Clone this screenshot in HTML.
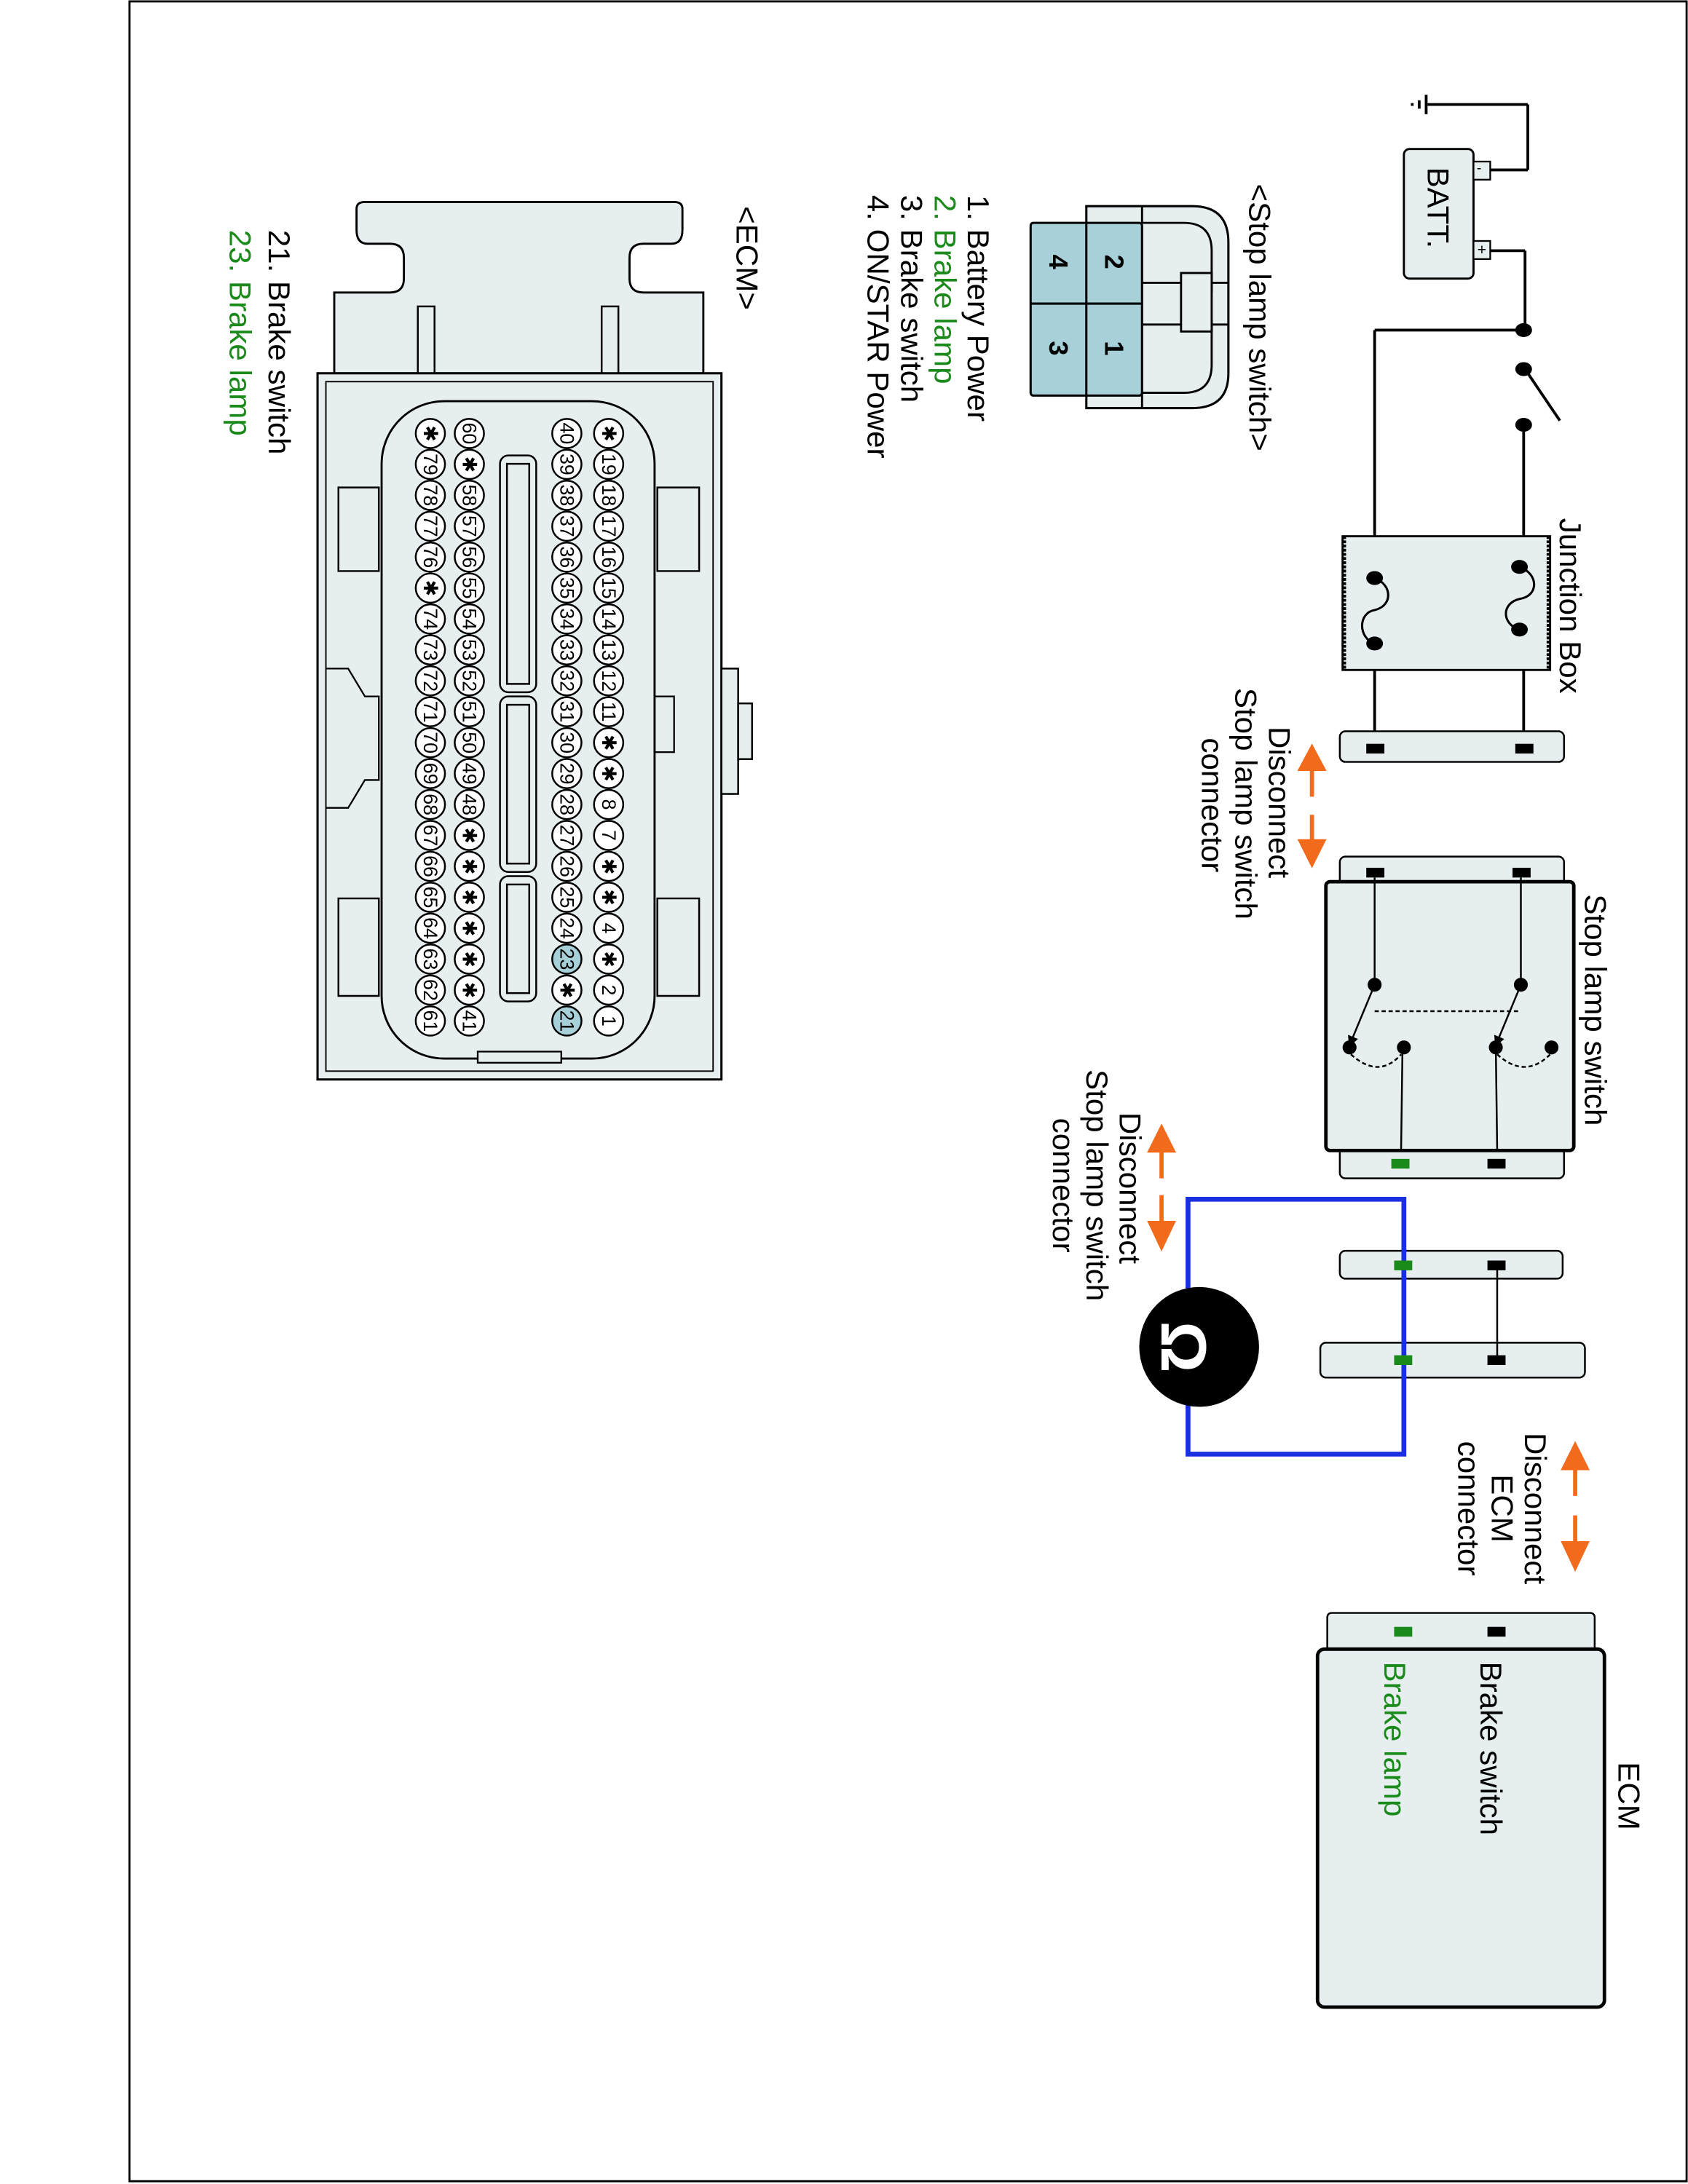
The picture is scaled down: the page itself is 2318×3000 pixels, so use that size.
<!DOCTYPE html>
<html><head><meta charset="utf-8"><style>
html,body{margin:0;padding:0;background:#fff;}
svg{display:block;}
text{font-family:"Liberation Sans",sans-serif;}
.pin circle{fill:#fff;stroke:#000;stroke-width:1.3;}
.pin text{font-size:14px;text-anchor:middle;dominant-baseline:central;}
.hl circle{fill:#a8d0d8;}
.lbl{font-size:22px;}
.mid{text-anchor:middle;}
</style></head><body>
<svg width="2318" height="3000" viewBox="0 0 1212 1568" preserveAspectRatio="none" xmlns="http://www.w3.org/2000/svg">
<defs>
<marker id="ah" markerWidth="6" markerHeight="6" refX="3" refY="3" orient="auto"><path d="M0,0 L6,3 L0,6 z" fill="#000"/></marker>
</defs>
<rect x="93" y="1" width="1118" height="1565" fill="none" stroke="#000" stroke-width="1.5"/>

<!-- Battery / ground -->
<g stroke="#000" stroke-width="2" fill="none">
<line x1="1024" y1="68" x2="1024" y2="82"/><line x1="1019" y1="72" x2="1019" y2="78"/><line x1="1014" y1="74" x2="1014" y2="76"/>
<line x1="1025" y1="75" x2="1097" y2="75"/><line x1="1097" y1="75" x2="1097" y2="122"/><line x1="1097" y1="122" x2="1070" y2="122"/>
<line x1="1070" y1="180" x2="1095" y2="180"/><line x1="1095" y1="180" x2="1095" y2="237"/>
<line x1="1095" y1="237" x2="987" y2="237"/><line x1="987" y1="237" x2="987" y2="530"/>
<line x1="1095" y1="265" x2="1120" y2="302"/>
<line x1="1094" y1="305" x2="1094" y2="530"/>
</g>
<rect x="1008" y="107" width="50" height="93" rx="4" fill="#e6eef0" stroke="#000" stroke-width="1.5"/>
<rect x="1058" y="116" width="12" height="13" fill="#e6eef0" stroke="#000" stroke-width="1.2"/>
<rect x="1058" y="173" width="12" height="13" fill="#e6eef0" stroke="#000" stroke-width="1.2"/>
<text x="1062" y="124" font-size="10" text-anchor="middle">-</text>
<text x="1064" y="183" font-size="11" text-anchor="middle">+</text>
<text transform="translate(1025,120) rotate(90)" font-size="22">BATT.</text>
<ellipse cx="1094" cy="237" rx="6" ry="5"/><ellipse cx="1094" cy="265" rx="6" ry="5"/><ellipse cx="1094" cy="305" rx="6" ry="5"/>

<!-- Junction box -->
<rect x="964" y="385" width="149" height="96" fill="#e6eef0" stroke="#000" stroke-width="1.5"/>
<line x1="965" y1="385" x2="965" y2="481" stroke="#000" stroke-width="3" stroke-dasharray="2,1"/>
<line x1="1112" y1="385" x2="1112" y2="481" stroke="#000" stroke-width="3" stroke-dasharray="2,1"/>
<g stroke="#000" stroke-width="1.6" fill="none">
<path d="M987,415 C1000,420 1000,435 987,438 C975,440 975,458 987,462"/>
<path d="M1091,407 C1105,412 1105,428 1091,430 C1078,433 1078,448 1091,452"/>
</g>
<ellipse cx="987" cy="415" rx="6" ry="5"/><ellipse cx="987" cy="462" rx="6" ry="5"/>
<ellipse cx="1091" cy="407" rx="6" ry="5"/><ellipse cx="1091" cy="452" rx="6" ry="5"/>
<text class="lbl" transform="translate(1120,372) rotate(90)">Junction Box</text>

<!-- connector 1 -->
<rect x="962" y="525" width="161" height="22" rx="4" fill="#e6eef0" stroke="#000" stroke-width="1.3"/>
<rect x="981" y="534" width="13" height="7"/><rect x="1088" y="534" width="13" height="7"/>
<text class="lbl mid" transform="translate(911,576) rotate(90)">Disconnect</text>
<text class="lbl mid" transform="translate(887,577) rotate(90)">Stop lamp switch</text>
<text class="lbl mid" transform="translate(863,578) rotate(90)">connector</text>
<g fill="#f26b1d" stroke="#f26b1d" stroke-width="3">
<line x1="942" y1="548" x2="942" y2="572"/><path d="M934,552 L942,537 L950,552 z"/>
<line x1="942" y1="585" x2="942" y2="608"/><path d="M934,604 L942,620 L950,604 z"/>
</g>

<!-- Stop lamp switch -->
<rect x="962" y="615" width="161" height="22" rx="4" fill="#e6eef0" stroke="#000" stroke-width="1.3"/>
<rect x="962" y="824" width="161" height="22" rx="4" fill="#e6eef0" stroke="#000" stroke-width="1.3"/>
<rect x="952" y="633" width="178" height="193" rx="3" fill="#e6eef0" stroke="#000" stroke-width="2.5"/>
<rect x="981" y="623" width="13" height="7"/><rect x="1086" y="623" width="13" height="7"/>
<rect x="1068" y="832" width="13" height="7"/><rect x="999" y="832" width="13" height="7" fill="#1a8a1a"/>
<g stroke="#000" stroke-width="1.3" fill="none">
<line x1="987" y1="630" x2="987" y2="707"/><line x1="1092" y1="630" x2="1092" y2="707"/>
<line x1="987" y1="726" x2="1092" y2="726" stroke-dasharray="3,2"/>
<line x1="987" y1="707" x2="970" y2="748" marker-end="url(#ah)"/>
<line x1="1092" y1="707" x2="1075" y2="748" marker-end="url(#ah)"/>
<path d="M970,757 Q990,775 1006,757" stroke-dasharray="3,2"/>
<path d="M1075,757 Q1095,775 1113,757" stroke-dasharray="3,2"/>
<line x1="1007" y1="752" x2="1006" y2="826"/><line x1="1074" y1="752" x2="1075" y2="826"/>
</g>
<circle cx="987" cy="707" r="5"/><circle cx="1092" cy="707" r="5"/>
<circle cx="969" cy="752" r="5"/><circle cx="1008" cy="752" r="5"/><circle cx="1074" cy="752" r="5"/><circle cx="1114" cy="752" r="5"/>
<text class="lbl" transform="translate(1138,642) rotate(90)">Stop lamp switch</text>

<!-- second disconnect pair -->
<rect x="962" y="898" width="160" height="20" rx="4" fill="#e6eef0" stroke="#000" stroke-width="1.3"/>
<rect x="948" y="964" width="190" height="25" rx="4" fill="#e6eef0" stroke="#000" stroke-width="1.3"/>
<line x1="1075" y1="908" x2="1075" y2="976" stroke="#000" stroke-width="1.3"/>
<g stroke="#1a2fe0" stroke-width="3.5" fill="none">
<path d="M853,861 L1008,861 L1008,1044 L853,1044 Z"/>
</g>
<rect x="1068" y="905" width="13" height="7"/><rect x="1001" y="905" width="13" height="7" fill="#1a8a1a"/>
<rect x="1068" y="973" width="13" height="7"/><rect x="1001" y="973" width="13" height="7" fill="#1a8a1a"/>
<circle cx="861" cy="967" r="43" fill="#000"/>
<text transform="translate(850,967) rotate(90)" font-size="46" font-weight="bold" fill="#fff" text-anchor="middle" dominant-baseline="central">Ω</text>
<text class="lbl mid" transform="translate(804,853) rotate(90)">Disconnect</text>
<text class="lbl mid" transform="translate(780,851) rotate(90)">Stop lamp switch</text>
<text class="lbl mid" transform="translate(756,851) rotate(90)">connector</text>
<g fill="#f26b1d" stroke="#f26b1d" stroke-width="3">
<line x1="834" y1="822" x2="834" y2="846"/><path d="M826,826 L834,810 L842,826 z"/>
<line x1="834" y1="858" x2="834" y2="882"/><path d="M826,878 L834,895 L842,878 z"/>
</g>

<!-- ECM disconnect -->
<text class="lbl mid" transform="translate(1095,1083) rotate(90)">Disconnect</text>
<text class="lbl mid" transform="translate(1071,1083) rotate(90)">ECM</text>
<text class="lbl mid" transform="translate(1047,1083) rotate(90)">connector</text>
<g fill="#f26b1d" stroke="#f26b1d" stroke-width="3">
<line x1="1131" y1="1050" x2="1131" y2="1074"/><path d="M1123,1054 L1131,1038 L1139,1054 z"/>
<line x1="1131" y1="1088" x2="1131" y2="1112"/><path d="M1123,1108 L1131,1125 L1139,1108 z"/>
</g>

<!-- ECM box -->
<rect x="953" y="1158" width="192" height="28" rx="3" fill="#e6eef0" stroke="#000" stroke-width="1.3"/>
<rect x="946" y="1184" width="206" height="257" rx="5" fill="#e6eef0" stroke="#000" stroke-width="2.5"/>
<rect x="1068" y="1168" width="13" height="7"/><rect x="1001" y="1168" width="13" height="7" fill="#1a8a1a"/>
<text class="lbl" transform="translate(1162,1265) rotate(90)">ECM</text>
<text class="lbl" transform="translate(1063,1193) rotate(90)">Brake switch</text>
<text class="lbl" transform="translate(994,1193) rotate(90)" fill="#1a8a1a">Brake lamp</text>

<!-- Stop lamp switch connector view -->
<text class="lbl" transform="translate(897,132) rotate(90)">&lt;Stop lamp switch&gt;</text>
<path d="M780,148 L856,148 Q882,148 882,174 L882,268 Q882,293 856,293 L780,293 Z" fill="#e6eef0" stroke="#000" stroke-width="1.6"/>
<path d="M820,160 L820,148 M820,293 L820,282" stroke="#000" stroke-width="1.5"/>
<path d="M820,160 L850,160 Q870,160 870,180 L870,210 M870,230 L870,262 Q870,282 850,282 L820,282" fill="none" stroke="#000" stroke-width="1.5"/>
<path d="M820,203 L882,203 M820,233 L882,233" stroke="#000" stroke-width="1.5"/>
<rect x="848" y="196" width="22" height="42" fill="#e6eef0" stroke="#000" stroke-width="1.5"/>
<rect x="740" y="160" width="80" height="124" rx="2" fill="#a8d0d8" stroke="#000" stroke-width="1.6"/>
<line x1="780" y1="160" x2="780" y2="284" stroke="#000" stroke-width="1.6"/>
<line x1="740" y1="218" x2="820" y2="218" stroke="#000" stroke-width="1.6"/>
<g font-size="19" text-anchor="middle" dominant-baseline="central" font-weight="bold">
<text transform="translate(800,188) rotate(90)">2</text><text transform="translate(800,250) rotate(90)">1</text>
<text transform="translate(760,188) rotate(90)">4</text><text transform="translate(760,250) rotate(90)">3</text>
</g>
<text class="lbl" transform="translate(695,140) rotate(90)">1. Battery Power</text>
<text class="lbl" transform="translate(671,140) rotate(90)" fill="#1a8a1a">2. Brake lamp</text>
<text class="lbl" transform="translate(647,140) rotate(90)">3. Brake switch</text>
<text class="lbl" transform="translate(623,140) rotate(90)">4. ON/STAR Power</text>

<!-- ECM connector view -->
<text class="lbl" transform="translate(529,148) rotate(90)">&lt;ECM&gt;</text>
<text class="lbl" transform="translate(193,165) rotate(90)">21. Brake switch</text>
<text class="lbl" transform="translate(165,165) rotate(90)" fill="#1a8a1a">23. Brake lamp</text>
<path d="M240,268 L240,210 L280,210 Q290,210 290,200 L290,185 Q290,175 280,175 L264,175 Q256,175 256,165 L256,150 Q256,145 262,145 L484,145 Q490,145 490,150 L490,165 Q490,175 482,175 L462,175 Q452,175 452,185 L452,200 Q452,210 462,210 L505,210 L505,268 Z" fill="#e6eef0" stroke="#000" stroke-width="1.5"/>
<rect x="300" y="220" width="12" height="48" fill="#e6eef0" stroke="#000" stroke-width="1.3"/>
<rect x="432" y="220" width="12" height="48" fill="#e6eef0" stroke="#000" stroke-width="1.3"/>
<rect x="228" y="268" width="290" height="507" fill="#e6eef0" stroke="#000" stroke-width="1.6"/>
<rect x="234" y="274" width="278" height="495" fill="none" stroke="#000" stroke-width="1"/>
<rect x="518" y="480" width="12" height="90" fill="#e6eef0" stroke="#000" stroke-width="1.3"/>
<rect x="530" y="505" width="10" height="40" fill="#e6eef0" stroke="#000" stroke-width="1.3"/>
<path d="M243,350 L272,350 L272,410 L243,410 Z M243,645 L272,645 L272,715 L243,715 Z" fill="#e6eef0" stroke="#000" stroke-width="1.3"/>
<path d="M472,350 L502,350 L502,410 L472,410 Z M472,645 L502,645 L502,715 L472,715 Z" fill="#e6eef0" stroke="#000" stroke-width="1.3"/>
<path d="M234,480 L250,480 L262,500 L272,500 L272,560 L262,560 L250,580 L234,580" fill="none" stroke="#000" stroke-width="1.2"/>
<rect x="468" y="500" width="16" height="40" fill="none" stroke="#000" stroke-width="1.2"/>
<rect x="274" y="288" width="196" height="472" rx="45" fill="#e6eef0" stroke="#000" stroke-width="1.5"/>
<rect x="343" y="755" width="60" height="8" fill="#e6eef0" stroke="#000" stroke-width="1.2"/>
<g fill="#e6eef0" stroke="#000" stroke-width="1.3">
<rect x="359" y="327" width="26" height="170" rx="6"/>
<rect x="359" y="500" width="26" height="126" rx="6"/>
<rect x="359" y="629" width="26" height="90" rx="6"/>
<rect x="364" y="333" width="16" height="158"/>
<rect x="364" y="506" width="16" height="114"/>
<rect x="364" y="635" width="16" height="78"/>
</g>

<!-- pins row 1 x=437 -->
<g class="pin"><g transform="translate(437,733) rotate(90)"><circle r="10.5"/><text>1</text></g>
<g transform="translate(437,710.8) rotate(90)"><circle r="10.5"/><text>2</text></g>
<g transform="translate(437,688.6) rotate(90)"><circle r="10.5"/><text>✱</text></g>
<g transform="translate(437,666.4) rotate(90)"><circle r="10.5"/><text>4</text></g>
<g transform="translate(437,644.2) rotate(90)"><circle r="10.5"/><text>✱</text></g>
<g transform="translate(437,622) rotate(90)"><circle r="10.5"/><text>✱</text></g>
<g transform="translate(437,599.8) rotate(90)"><circle r="10.5"/><text>7</text></g>
<g transform="translate(437,577.6) rotate(90)"><circle r="10.5"/><text>8</text></g>
<g transform="translate(437,555.4) rotate(90)"><circle r="10.5"/><text>✱</text></g>
<g transform="translate(437,533.2) rotate(90)"><circle r="10.5"/><text>✱</text></g>
<g transform="translate(437,511) rotate(90)"><circle r="10.5"/><text>11</text></g>
<g transform="translate(437,488.8) rotate(90)"><circle r="10.5"/><text>12</text></g>
<g transform="translate(437,466.6) rotate(90)"><circle r="10.5"/><text>13</text></g>
<g transform="translate(437,444.4) rotate(90)"><circle r="10.5"/><text>14</text></g>
<g transform="translate(437,422.2) rotate(90)"><circle r="10.5"/><text>15</text></g>
<g transform="translate(437,400) rotate(90)"><circle r="10.5"/><text>16</text></g>
<g transform="translate(437,377.8) rotate(90)"><circle r="10.5"/><text>17</text></g>
<g transform="translate(437,355.6) rotate(90)"><circle r="10.5"/><text>18</text></g>
<g transform="translate(437,333.4) rotate(90)"><circle r="10.5"/><text>19</text></g>
<g transform="translate(437,311.2) rotate(90)"><circle r="10.5"/><text>✱</text></g>
</g>
<!-- row 2 x=407 -->
<g class="pin"><g class="hl" transform="translate(407,733) rotate(90)"><circle r="10.5"/><text>21</text></g>
<g transform="translate(407,710.8) rotate(90)"><circle r="10.5"/><text>✱</text></g>
<g class="hl" transform="translate(407,688.6) rotate(90)"><circle r="10.5"/><text>23</text></g>
<g transform="translate(407,666.4) rotate(90)"><circle r="10.5"/><text>24</text></g>
<g transform="translate(407,644.2) rotate(90)"><circle r="10.5"/><text>25</text></g>
<g transform="translate(407,622) rotate(90)"><circle r="10.5"/><text>26</text></g>
<g transform="translate(407,599.8) rotate(90)"><circle r="10.5"/><text>27</text></g>
<g transform="translate(407,577.6) rotate(90)"><circle r="10.5"/><text>28</text></g>
<g transform="translate(407,555.4) rotate(90)"><circle r="10.5"/><text>29</text></g>
<g transform="translate(407,533.2) rotate(90)"><circle r="10.5"/><text>30</text></g>
<g transform="translate(407,511) rotate(90)"><circle r="10.5"/><text>31</text></g>
<g transform="translate(407,488.8) rotate(90)"><circle r="10.5"/><text>32</text></g>
<g transform="translate(407,466.6) rotate(90)"><circle r="10.5"/><text>33</text></g>
<g transform="translate(407,444.4) rotate(90)"><circle r="10.5"/><text>34</text></g>
<g transform="translate(407,422.2) rotate(90)"><circle r="10.5"/><text>35</text></g>
<g transform="translate(407,400) rotate(90)"><circle r="10.5"/><text>36</text></g>
<g transform="translate(407,377.8) rotate(90)"><circle r="10.5"/><text>37</text></g>
<g transform="translate(407,355.6) rotate(90)"><circle r="10.5"/><text>38</text></g>
<g transform="translate(407,333.4) rotate(90)"><circle r="10.5"/><text>39</text></g>
<g transform="translate(407,311.2) rotate(90)"><circle r="10.5"/><text>40</text></g>
</g>
<!-- row 3 x=337 -->
<g class="pin"><g transform="translate(337,733) rotate(90)"><circle r="10.5"/><text>41</text></g>
<g transform="translate(337,710.8) rotate(90)"><circle r="10.5"/><text>✱</text></g>
<g transform="translate(337,688.6) rotate(90)"><circle r="10.5"/><text>✱</text></g>
<g transform="translate(337,666.4) rotate(90)"><circle r="10.5"/><text>✱</text></g>
<g transform="translate(337,644.2) rotate(90)"><circle r="10.5"/><text>✱</text></g>
<g transform="translate(337,622) rotate(90)"><circle r="10.5"/><text>✱</text></g>
<g transform="translate(337,599.8) rotate(90)"><circle r="10.5"/><text>✱</text></g>
<g transform="translate(337,577.6) rotate(90)"><circle r="10.5"/><text>48</text></g>
<g transform="translate(337,555.4) rotate(90)"><circle r="10.5"/><text>49</text></g>
<g transform="translate(337,533.2) rotate(90)"><circle r="10.5"/><text>50</text></g>
<g transform="translate(337,511) rotate(90)"><circle r="10.5"/><text>51</text></g>
<g transform="translate(337,488.8) rotate(90)"><circle r="10.5"/><text>52</text></g>
<g transform="translate(337,466.6) rotate(90)"><circle r="10.5"/><text>53</text></g>
<g transform="translate(337,444.4) rotate(90)"><circle r="10.5"/><text>54</text></g>
<g transform="translate(337,422.2) rotate(90)"><circle r="10.5"/><text>55</text></g>
<g transform="translate(337,400) rotate(90)"><circle r="10.5"/><text>56</text></g>
<g transform="translate(337,377.8) rotate(90)"><circle r="10.5"/><text>57</text></g>
<g transform="translate(337,355.6) rotate(90)"><circle r="10.5"/><text>58</text></g>
<g transform="translate(337,333.4) rotate(90)"><circle r="10.5"/><text>✱</text></g>
<g transform="translate(337,311.2) rotate(90)"><circle r="10.5"/><text>60</text></g>
</g>
<!-- row 4 x=309 -->
<g class="pin"><g transform="translate(309,733) rotate(90)"><circle r="10.5"/><text>61</text></g>
<g transform="translate(309,710.8) rotate(90)"><circle r="10.5"/><text>62</text></g>
<g transform="translate(309,688.6) rotate(90)"><circle r="10.5"/><text>63</text></g>
<g transform="translate(309,666.4) rotate(90)"><circle r="10.5"/><text>64</text></g>
<g transform="translate(309,644.2) rotate(90)"><circle r="10.5"/><text>65</text></g>
<g transform="translate(309,622) rotate(90)"><circle r="10.5"/><text>66</text></g>
<g transform="translate(309,599.8) rotate(90)"><circle r="10.5"/><text>67</text></g>
<g transform="translate(309,577.6) rotate(90)"><circle r="10.5"/><text>68</text></g>
<g transform="translate(309,555.4) rotate(90)"><circle r="10.5"/><text>69</text></g>
<g transform="translate(309,533.2) rotate(90)"><circle r="10.5"/><text>70</text></g>
<g transform="translate(309,511) rotate(90)"><circle r="10.5"/><text>71</text></g>
<g transform="translate(309,488.8) rotate(90)"><circle r="10.5"/><text>72</text></g>
<g transform="translate(309,466.6) rotate(90)"><circle r="10.5"/><text>73</text></g>
<g transform="translate(309,444.4) rotate(90)"><circle r="10.5"/><text>74</text></g>
<g transform="translate(309,422.2) rotate(90)"><circle r="10.5"/><text>✱</text></g>
<g transform="translate(309,400) rotate(90)"><circle r="10.5"/><text>76</text></g>
<g transform="translate(309,377.8) rotate(90)"><circle r="10.5"/><text>77</text></g>
<g transform="translate(309,355.6) rotate(90)"><circle r="10.5"/><text>78</text></g>
<g transform="translate(309,333.4) rotate(90)"><circle r="10.5"/><text>79</text></g>
<g transform="translate(309,311.2) rotate(90)"><circle r="10.5"/><text>✱</text></g>
</g>
</svg>
</body></html>
